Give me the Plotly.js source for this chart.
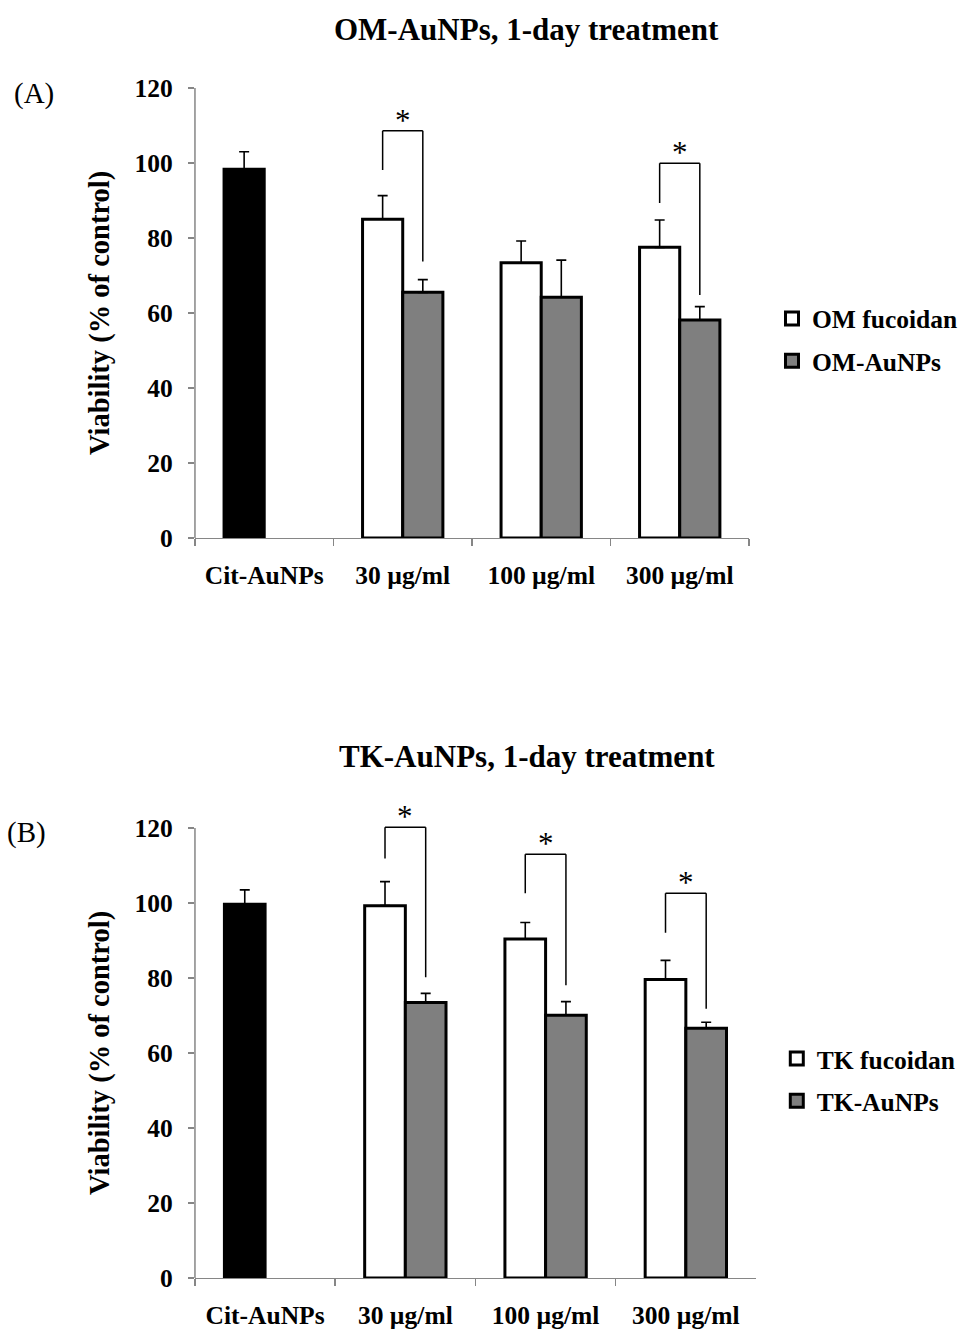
<!DOCTYPE html>
<html>
<head>
<meta charset="utf-8">
<script src="https://cdn.plot.ly/plotly-3.0.1.min.js"></script>
<style>html,body{margin:0;padding:0;background:#fff;}#chart{width:959px;height:1331px;}</style>
</head>
<body>
<div id="chart"></div>
<script>
// ---------- data ----------
const categories = ['Cit-AuNPs', '30 µg/ml', '100 µg/ml', '300 µg/ml'];
const doses = ['30 µg/ml', '100 µg/ml', '300 µg/ml'];

// Panel A: OM
const citA = [98.3];
const citAErr = [4.7];
const omFucoidan = [85.0, 73.4, 77.5];
const omFucoidanErr = [6.3, 5.8, 7.3];
const omAuNPs = [65.5, 64.2, 58.1];
const omAuNPsErr = [3.4, 9.9, 3.6];

// Panel B: TK
const citB = [99.7];
const citBErr = [3.8];
const tkFucoidan = [99.3, 90.4, 79.6];
const tkFucoidanErr = [6.4, 4.4, 5.1];
const tkAuNPs = [73.5, 70.1, 66.6];
const tkAuNPsErr = [2.4, 3.6, 1.6];

// significance brackets: category, top level, left leg end, right leg end
const sigA = [
  {cat: '30 µg/ml', top: 108.6, left: 98.1, right: 73.7},
  {cat: '300 µg/ml', top: 99.9, left: 89.3, right: 64.8}
];
const sigB = [
  {cat: '30 µg/ml', top: 120.2, left: 111.9, right: 80.2},
  {cat: '100 µg/ml', top: 113.0, left: 102.6, right: 78.1},
  {cat: '300 µg/ml', top: 102.6, left: 92.1, right: 71.8}
];

// ---------- style ----------
const FONT = 'Liberation Serif, Times New Roman, serif';
const GRAY = '#868686';
const BW = 0.29;       // bar width in category units
const zeros = n => new Array(n).fill(0);

function barTrace(x, y, err, fill, xa, ya, off) {
  return {
    type: 'bar', x: x, y: y, xaxis: xa, yaxis: ya,
    width: BW, offset: off, showlegend: false, hoverinfo: 'skip',
    marker: {color: fill, line: {color: 'black', width: 3}},
    error_y: {type: 'data', symmetric: false, array: err, arrayminus: zeros(err.length),
              color: 'black', thickness: 1.6, width: 5}
  };
}

function legendTrace(name, fill, xa, ya, legend) {
  return {
    type: 'scatter', mode: 'markers', x: [null], y: [null], xaxis: xa, yaxis: ya,
    name: name, legend: legend, legendgroup: name, hoverinfo: 'skip',
    marker: {symbol: 'square', size: 13, color: fill, line: {color: 'black', width: 3}}
  };
}

const traces = [
  barTrace(['Cit-AuNPs'], citA, citAErr, 'black', 'x', 'y', -BW),
  barTrace(doses, omFucoidan, omFucoidanErr, 'white', 'x', 'y', -BW),
  barTrace(doses, omAuNPs, omAuNPsErr, '#7f7f7f', 'x', 'y', 0),
  barTrace(['Cit-AuNPs'], citB, citBErr, 'black', 'x2', 'y2', -BW),
  barTrace(doses, tkFucoidan, tkFucoidanErr, 'white', 'x2', 'y2', -BW),
  barTrace(doses, tkAuNPs, tkAuNPsErr, '#7f7f7f', 'x2', 'y2', 0),
  legendTrace('OM fucoidan', 'white', 'x', 'y', 'legend'),
  legendTrace('OM-AuNPs', '#7f7f7f', 'x', 'y', 'legend'),
  legendTrace('TK fucoidan', 'white', 'x2', 'y2', 'legend2'),
  legendTrace('TK-AuNPs', '#7f7f7f', 'x2', 'y2', 'legend2')
];

// shapes & annotations
const shapes = [];
const annotations = [];
function addBrackets(list, xa, ya) {
  list.forEach(s => {
    const i = categories.indexOf(s.cat);
    const xl = i - BW / 2, xr = i + BW / 2;
    const ln = {color: 'black', width: 1.5};
    shapes.push({type: 'line', xref: xa, yref: ya, x0: xl, x1: xl, y0: s.left, y1: s.top, line: ln});
    shapes.push({type: 'line', xref: xa, yref: ya, x0: xl, x1: xr, y0: s.top, y1: s.top, line: ln});
    shapes.push({type: 'line', xref: xa, yref: ya, x0: xr, x1: xr, y0: s.top, y1: s.right, line: ln});
    annotations.push({xref: xa, yref: ya, x: i, y: s.top, text: '*', showarrow: false,
      yanchor: 'bottom', yshift: -9, font: {family: FONT, size: 31, color: 'black'}});
  });
}
addBrackets(sigA, 'x', 'y');
addBrackets(sigB, 'x2', 'y2');

// manual y axis lines (0..120)
shapes.push({type: 'line', xref: 'x domain', yref: 'y', x0: 0, x1: 0, y0: 0, y1: 120, line: {color: GRAY, width: 1.5}});
shapes.push({type: 'line', xref: 'x2 domain', yref: 'y2', x0: 0, x1: 0, y0: 0, y1: 120, line: {color: GRAY, width: 1.5}});

const titleFont = {family: FONT, size: 31, color: 'black', weight: 'bold'};
annotations.push({xref: 'paper', yref: 'paper', x: 0.5495, y: 0.9775, text: 'OM-AuNPs, 1-day treatment',
  showarrow: false, xanchor: 'center', yanchor: 'middle', font: titleFont});
annotations.push({xref: 'paper', yref: 'paper', x: 0.5495, y: 0.4313, text: 'TK-AuNPs, 1-day treatment',
  showarrow: false, xanchor: 'center', yanchor: 'middle', font: titleFont});
annotations.push({xref: 'paper', yref: 'paper', x: 0.0125, y: 0.930, text: '(A)',
  showarrow: false, xanchor: 'left', yanchor: 'middle', font: {family: FONT, size: 29, color: 'black'}});
annotations.push({xref: 'paper', yref: 'paper', x: 0.0052, y: 0.3742, text: '(B)',
  showarrow: false, xanchor: 'left', yanchor: 'middle', font: {family: FONT, size: 29, color: 'black'}});
const ytFont = {family: FONT, size: 28.5, color: 'black', weight: 'bold'};
annotations.push({xref: 'paper', yref: 'y', x: 0.1043, y: 60, text: 'Viability (% of control)', textangle: -90,
  showarrow: false, xanchor: 'center', yanchor: 'middle', font: ytFont});
annotations.push({xref: 'paper', yref: 'y2', x: 0.1043, y: 60, text: 'Viability (% of control)', textangle: -90,
  showarrow: false, xanchor: 'center', yanchor: 'middle', font: ytFont});

const tickFont = {family: FONT, size: 25.5, color: 'black', weight: 'bold'};
function xAxis(domain, anchor) {
  return {domain: domain, anchor: anchor, type: 'category', categoryorder: 'array', categoryarray: categories,
    range: [-0.5, 3.5], showline: true, linecolor: GRAY, linewidth: 1.5, ticks: 'outside', tickson: 'boundaries',
    ticklen: 7, tickcolor: GRAY, tickwidth: 1.5, tickfont: tickFont, showgrid: false, zeroline: false,
    fixedrange: true, automargin: false, ticklabelstandoff: 14};
}
function yAxis(domain, anchor) {
  return {domain: domain, anchor: anchor, range: [0, 125], tickvals: [0, 20, 40, 60, 80, 100, 120],
    ticktext: ['0', '20', '40', '60', '80', '100', '120'],
    showline: false, ticks: 'outside', ticklen: 6, tickcolor: GRAY, tickwidth: 1.5, tickfont: tickFont,
    showgrid: false, zeroline: false, fixedrange: true, automargin: false, ticklabelstandoff: 10};
}

const legendFont = {family: FONT, size: 25.5, color: 'black', weight: 'bold'};
const layout = {
  width: 959, height: 1331,
  margin: {l: 0, r: 0, t: 0, b: 0, autoexpand: false},
  paper_bgcolor: 'white', plot_bgcolor: 'rgba(0,0,0,0)',
  barmode: 'overlay',
  xaxis: xAxis([0.2033, 0.7810], 'y'),
  yaxis: yAxis([0.5958, 0.9480], 'x'),
  xaxis2: xAxis([0.2033, 0.7883], 'y2'),
  yaxis2: yAxis([0.03982, 0.3920], 'x2'),
  legend: {x: 0.805, y: 0.7446, xanchor: 'left', yanchor: 'middle', font: legendFont,
    traceorder: 'grouped', tracegroupgap: 6, itemwidth: 30, bgcolor: 'rgba(0,0,0,0)'},
  legend2: {x: 0.810, y: 0.1886, xanchor: 'left', yanchor: 'middle', font: legendFont,
    traceorder: 'grouped', tracegroupgap: 6, itemwidth: 30, bgcolor: 'rgba(0,0,0,0)'},
  shapes: shapes,
  annotations: annotations
};

Plotly.newPlot('chart', traces, layout, {staticPlot: true, displayModeBar: false});
</script>
</body>
</html>
